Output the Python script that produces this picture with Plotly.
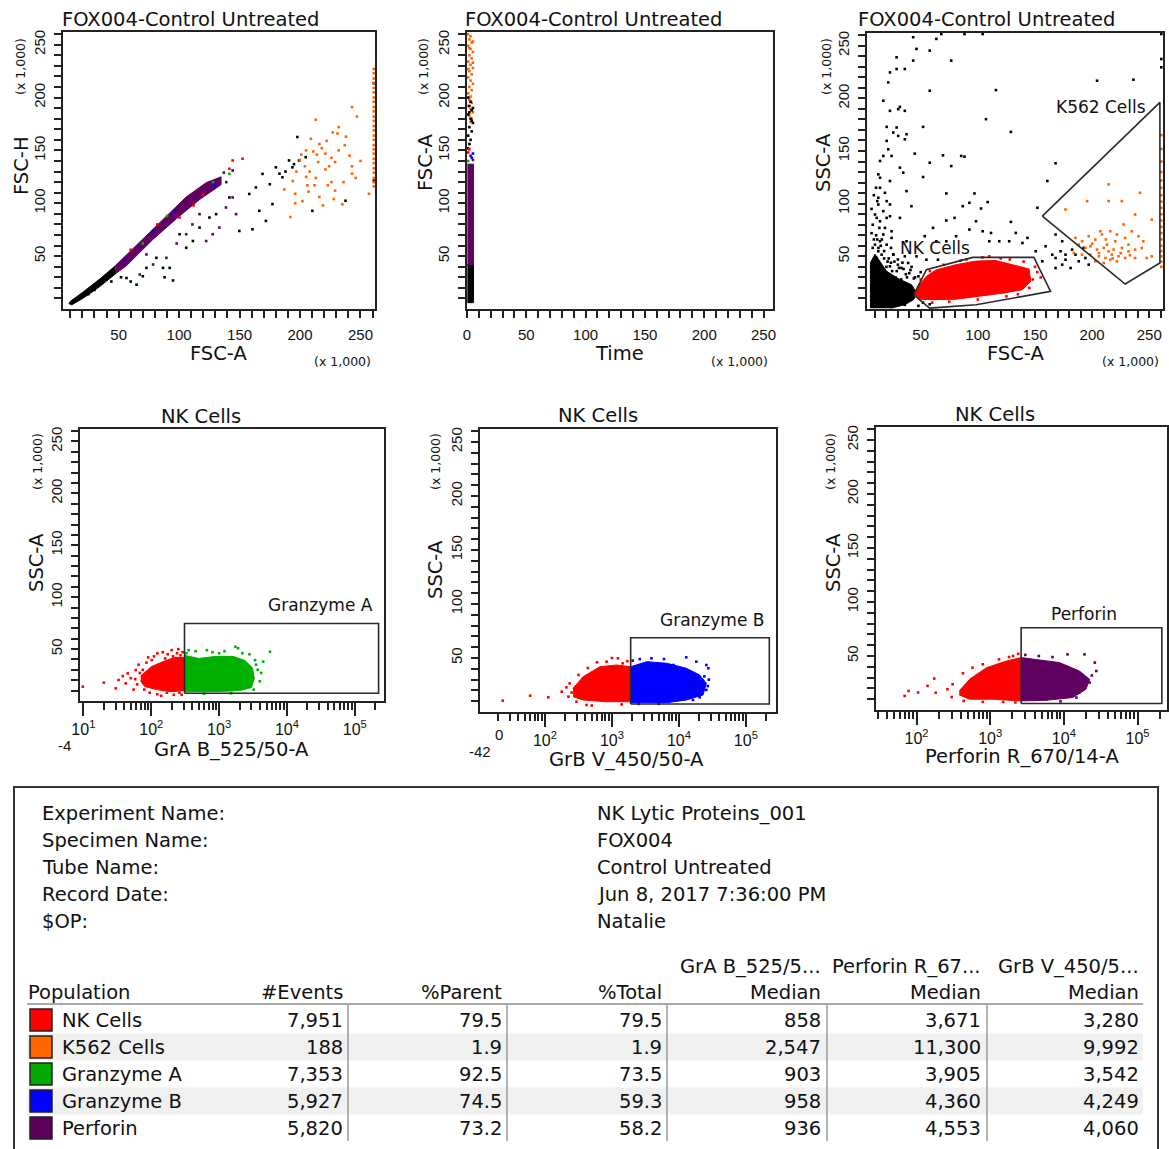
import numpy as np
import plotly.graph_objects as go

W, H = 1169, 1149
FONT = "DejaVu Sans"
TICKFAMILY = "Liberation Sans"

RED = "#FF0000"; ORANGE = "#FF6600"; GREEN = "#00B000"; BLUE = "#0000FF"
PURPLE = "#600060"; BLACK = "#000000"

# ---------------- data (values in axis units; linear axes are x 1,000) ----------------
# Panel 1: FSC-A vs FSC-H
p1_black_band_x = [46.9, 34.6, 20.8, 9.9, 9.0, 11.3, 20.8, 34.6, 48.3]
p1_black_band_y = [40.5, 28.5, 16.2, 7.1, 5.0, 4.0, 10.3, 21.4, 34.1]
p1_purple_band_x = [46.9, 67.5, 89.5, 105.9, 122.4, 134.7, 134.7, 116.9, 100.4, 78.5, 56.5, 48.3]
p1_purple_band_y = [40.5, 63.5, 87.5, 106, 119.5, 125, 117.5, 103.5, 88, 66, 41, 34.1]
p1_black_pts = [(56.5, 29.3), (64.8, 23), (73, 38.9), (81.2, 48.4), (86.7, 38.9), (92.2, 38.9), (100.4, 70.7),
                (105.9, 57.9), (111.4, 64.3), (116.9, 77), (125.1, 86.5), (130.6, 89.7), (141.6, 105.5),
                (149.8, 73.8), (160.7, 75.4), (166.3, 92.9), (171.8, 83.3), (177.2, 99.2), (158, 108.8),
                (163.5, 115), (169, 127.8), (180, 134), (185.4, 124.6), (190.9, 140.5), (193.7, 134),
                (197.8, 162.7), (199.2, 140.5), (204.7, 143.6), (210.2, 92.9), (237.6, 102.4),
                (261, 213.5), (261, 121.4), (88, 30), (95, 27), (60, 26), (70, 31), (175, 118),
                (188, 130), (195, 137), (183, 128), (30, 18), (40, 28), (25, 14), (52, 30), (44, 26)]
p1_purple_pts = [(122.4, 64.3), (133.3, 77), (144.3, 105.5), (147.1, 89.7), (138.8, 96), (127.8, 70.7),
                 (105.9, 70.7), (89.5, 48.4), (78.5, 42.1), (67.5, 32.6), (73, 51.6), (116.9, 89.7),
                 (111, 80), (98, 62), (137, 129), (139, 120)]
p1_red_pts = [(144.3, 140.5), (152.5, 142.1), (141.6, 132.6), (100.4, 86.5), (82, 80), (120, 108), (60, 56), (112, 98)]
p1_blue_pts = [(144.3, 131), (78.5, 73.8), (130, 117), (96, 92), (55, 47)]
p1_green_pts = [(141.6, 127.8), (128, 120), (90, 88), (70, 62)]
p1_orange_pts = [(243, 191), (247, 182), (213, 179), (227, 167), (231, 166), (209, 161), (216, 156), (222, 159),
                 (205, 150), (211, 149), (214, 146), (218, 152), (221, 147), (226, 143), (232, 150), (237, 155),
                 (241, 145), (243, 135), (224, 135), (200, 141), (204, 135), (208, 130), (197, 130), (194, 121),
                 (213, 124), (221, 132), (223, 117), (212, 117), (206, 117), (207, 111), (202, 102), (196, 100),
                 (192, 87), (235, 99), (229, 112), (257, 109), (243, 128), (246, 124), (216, 106), (219, 98),
                 (228, 104), (187, 113), (196, 109), (232, 172), (238, 163), (201, 146), (229, 139), (215, 139),
                 (236, 120), (250, 140), (226, 120), (205, 125)]
p1_orange_edge_y = [116, 120, 124, 129, 133, 138, 142, 147, 151, 155, 160, 164, 169, 173, 178, 182, 187,
                    191, 196, 200, 205, 209, 214, 218, 223, 227]

# Panel 2: Time vs FSC-A
p2_black_strip_x = [0.3, 5.5, 5.5, 0.3]
p2_black_strip_y = [6, 6, 42, 42]
p2_purple_strip_x = [0.3, 5.5, 5.5, 0.3]
p2_purple_strip_y = [42, 42, 137, 137]
p2_orange_pts = [(1, 260), (3, 258), (2, 255), (4, 252), (1, 249), (3, 246), (5, 243), (2, 240), (4, 237),
                 (1, 234), (3, 231), (5, 228), (2, 225), (4, 222), (1, 219), (3, 216), (5, 213), (2, 210),
                 (4, 207), (1, 204), (3, 201), (2, 198), (4, 195), (1, 192), (3, 189), (5, 186), (2, 183),
                 (4, 180), (3, 177), (5, 253), (5, 233), (1, 227), (2, 247)]
p2_black_pts = [(1, 200), (3, 196), (2, 192), (4, 188), (1, 184), (3, 180), (5, 176), (2, 172), (4, 168),
                (1, 164), (3, 160), (2, 156), (4, 178), (5, 190), (2, 186), (1, 152)]
p2_red_pts = [(1, 148), (2, 151)]
p2_blue_pts = [(4, 143), (5, 147)]
p2_green_pts = [(1, 140)]
p2_purple_pts = [(3, 145), (5, 141)]

# Panel 3: FSC-A vs SSC-A
p3_black_core_x = [6, 6, 10, 14, 20, 30, 42, 46, 44, 36, 24]
p3_black_core_y = [0.8, 44, 52, 46, 36, 29, 23, 16, 9, 4, 0.8]
p3_red_x = [44.8, 47.7, 55, 63.7, 81, 98.4, 115.8, 133.2, 144.8, 146.3, 139, 121.6, 98.4, 81, 60.7, 49.1]
p3_red_y = [13.5, 21.4, 31, 37.3, 42.1, 45.5, 46, 41.5, 38, 26.2, 18.3, 15, 11.9, 9.3, 8.8, 9.3]
p3_red_pts = [(150, 40), (152, 35), (148, 28), (140, 45), (128, 47), (110, 50), (90, 47), (70, 42), (58, 36),
              (50, 28), (60, 6), (75, 7), (100, 9), (125, 12), (145, 20), (155, 30), (135, 14), (85, 46),
              (120, 48), (104, 49)]
p3_black_pts = [(43.4, 258), (63.7, 256.4), (68, 261), (88.3, 261), (104.2, 261), (46.3, 246.9), (57.9, 245.3),
                (28.9, 238.9), (43.4, 235.8), (76.7, 235.8), (36.1, 227.8), (23.1, 224.6), (28.9, 227.8),
                (21.6, 215.1), (57.9, 207.2), (115.8, 207.8), (204.3, 216.7), (236.1, 217.7), (260.5, 229.4),
                (260.5, 237.3), (17.3, 197.7), (23.1, 188.1), (30.3, 189.7), (36.1, 188.1), (31.8, 191.9),
                (107.1, 180.2), (52.1, 172.9), (20.2, 172.9), (28.9, 172.3), (26, 167.5), (30.3, 164.3),
                (37.6, 165.9), (20.2, 159.6), (36.1, 161.1), (128.9, 168.1), (21.6, 151.6), (44.8, 147.5),
                (24.5, 145.3), (17.3, 145.3), (69.5, 145.9), (85.4, 145.3), (88.3, 144.6), (57.9, 138.9),
                (76.7, 135.7), (31.8, 134.2), (34.7, 129.4), (14.4, 124.6), (23.1, 121.5), (52.1, 125.3),
                (168, 138.3), (160.8, 121.5), (37.6, 111.9), (72.4, 109.7), (97, 109.7), (14.4, 115.1),
                (18.7, 110.3), (20.2, 102.4), (12.9, 99.2), (23.1, 99.2), (41.9, 97.6), (86.8, 97.6),
                (92.6, 100.8), (108.6, 101.5), (102.8, 95.4), (152.1, 96.1), (17.3, 92.9), (23.1, 88.1),
                (31.8, 86.5), (72.4, 84), (79.6, 86.5), (98.4, 83.3), (128.9, 82.7), (14.4, 83.3), (18.7, 77),
                (24.5, 73.8), (60.8, 77), (92.6, 75.4), (104.2, 73.8), (111.5, 72.2), (133.2, 72.2),
                (143.4, 67.5), (118.7, 64.3), (127.4, 64.3), (139, 62.7), (110, 64.3), (81, 69.1), (72.4, 64.3),
                (53.5, 69.1), (63.7, 64.3), (150.6, 54.8), (159.3, 59.5), (168, 70.7), (173.8, 64.3),
                (165.1, 51.6), (156.4, 45.3), (168, 48.4), (176.7, 51.6), (182.5, 56.4), (173.8, 42.1),
                (181.1, 38.9), (188.3, 45.3), (194.1, 48.4), (197, 42.1), (185.4, 51.6), (192.7, 58),
                (168, 38.9), (172.4, 54.8), (176.7, 46.8), (36.1, 50), (26, 51.6), (23.1, 40.5), (33.2, 38.9),
                (39, 43.7), (55, 46.8), (65.1, 46.8), (46.3, 50), (36.1, 4), (57.9, 4.5), (31.8, 13.5),
                (12.9, 54.8), (14.4, 64.3), (10, 61.1), (11.5, 48.4), (15.8, 51.6), (20.2, 61.1), (24.5, 67.5),
                (37.6, 64.3), (10, 89.7), (12, 102.4), (10.9, 115.1), (12.9, 127.8), (14.4, 140.5),
                (11.5, 86.5), (13.8, 77), (17.3, 70.7), (20.2, 86.5), (12.9, 105.6), (260.5, 261),
                (20, 40), (25, 36), (30, 42), (35, 38), (40, 34), (22, 48), (28, 30), (33, 28), (38, 30),
                (18, 55), (15, 60), (12, 66), (45, 30), (42, 40), (30, 47), (26, 52), (50, 35), (40, 20),
                (33, 18), (48, 3), (52, 6), (15, 30), (12, 40), (17, 20), (27, 45), (19, 35), (24, 58),
                (8, 58), (9, 66), (7, 72), (11, 70), (8, 80), (16, 66), (13, 58), (21, 45), (29, 36), (37, 33),
                (44, 29), (48, 31), (34, 44), (18, 48), (7, 95), (9, 108), (24, 44), (31, 39), (41, 37)]
p3_orange_pts = [(214.4, 118.3), (241.9, 110.3), (214.4, 102.4), (195.6, 102.4), (176.7, 94.5), (237.6, 89.7),
                 (252.1, 84.9), (227.5, 80.2), (215.9, 73.8), (234.7, 73.8), (185.4, 67.5), (197, 69.1),
                 (202.8, 65.9), (208.6, 70.7), (221.7, 70.7), (228.9, 67.5), (240.5, 69.1), (243.4, 57.9),
                 (188.3, 61.1), (194.1, 58), (198.5, 59.5), (204.3, 56.4), (210.1, 58), (214.4, 54.8),
                 (218.8, 56.4), (226, 58), (231.8, 54.8), (237.6, 56.4), (198.5, 51.6), (205.8, 50),
                 (211.6, 48.4), (217.3, 51.6), (223.1, 50), (228.9, 48.4), (202.8, 45.3), (210.1, 43.7),
                 (215.9, 46.8), (221.7, 45.3), (247.7, 48.4), (252.1, 50), (244.8, 64.3), (191.2, 64.3),
                 (184, 53.2), (191.2, 51.6), (237.6, 48.4), (226, 102.4), (207.2, 73.8), (213, 61.1),
                 (220.2, 64.3), (231.8, 61.1), (200, 62), (206, 53), (218, 48), (225, 53), (233, 51), (212, 66)]
p3_orange_edge_y = [40, 45, 50, 55, 60, 66, 72, 78, 84, 90, 96, 102, 108, 115, 122, 130, 140, 152, 165]
nk_gate_x = [43.9, 55, 95.5, 149, 163.6, 98.4, 57.8, 43.9]
nk_gate_y = [13.5, 37.3, 49, 49, 16.7, 4, 0.8, 13.5]
k562_gate_x = [156.4, 259.3, 259.3, 228.9, 156.4]
k562_gate_y = [88.1, 196.1, 43.7, 23.7, 88.1]

# Panel 4: GrA B_525/50-A (log) vs SSC-A
p4_red_core_x = [70, 100, 150, 220, 309, 309, 200, 120, 80, 70]
p4_red_core_y = [24, 33, 38, 42, 42, 10, 9, 11, 14, 19]
p4_red_pts = [(9.8, 13.8), (20, 17.7), (30, 12.2), (33, 20.2), (42, 17), (45, 26.6), (59, 29.8), (55, 11),
              (102, 39.4), (123, 45.9), (148, 47), (200, 49), (209, 43), (123, 6.5), (170, 8), (79, 11),
              (50, 22), (38, 24), (65, 35), (90, 42), (250, 50), (280, 6), (140, 5), (62, 16), (68, 27),
              (85, 37), (110, 43), (175, 45), (240, 46), (290, 47), (260, 8), (215, 6), (95, 8), (75, 30),
              (58, 21), (160, 41), (270, 44)]
p4_green_x = [309, 500, 900, 1600, 2400, 3100, 3300, 3000, 2000, 900, 309]
p4_green_y = [44, 41, 43, 43, 39, 32, 22, 13, 10, 9, 9]
p4_green_pts = [(355, 49), (661, 49), (1738, 52.3), (1905, 50.8), (3388, 39.4), (4467, 37.9), (4169, 27),
                (3981, 19), (5623, 47.5), (3236, 11), (2570, 14), (1200, 48), (800, 47), (450, 48), (2800, 45),
                (3700, 30), (600, 7), (1500, 7.5), (330, 46), (1000, 46), (2200, 46), (3500, 35)]
p4_gate_x = [309, 224000, 224000, 309, 309]
p4_gate_y = [7.4, 7.4, 74.7, 74.7, 7.4]

# Panel 5: GrB V_450/50-A (log) vs SSC-A
p5_red_x = [263, 372, 661, 1175, 1905, 1905, 832, 372, 263]
p5_red_y = [21.9, 32.7, 41.9, 43.5, 41.9, 9.5, 9.5, 11.1, 14.2]
p5_red_pts = [(23.4, 10.5), (60, 15.1), (112, 13.6), (178, 18.8), (209, 22.8), (234, 26.5), (316, 34.3),
              (437, 40.7), (832, 46.6), (1230, 49.7), (1445, 45), (417, 6.5), (295, 9.5), (224, 14.2),
              (600, 46), (1000, 50), (1700, 47), (250, 18), (500, 6), (1400, 7)]
p5_blue_x = [1905, 3311, 6607, 12882, 20417, 25704, 22909, 12882, 6607, 1905]
p5_blue_y = [41.9, 46.6, 45.1, 40.5, 34.3, 26.6, 15.7, 11.1, 8.6, 8.6]
p5_blue_pts = [(2042, 47.6), (3890, 49.7), (12882, 50.6), (18197, 46.6), (25704, 43.5), (27542, 40.5),
               (23988, 33), (25704, 20.4), (20417, 13.6), (16218, 11.1), (8318, 43.5), (2600, 49), (6000, 49),
               (28000, 30), (27000, 24), (2500, 7.5), (5000, 7.5)]
p5_gate_x = [1905, 224000, 224000, 1905, 1905]
p5_gate_y = [7.4, 7.4, 68.8, 68.8, 7.4]

# Panel 6: Perforin R_670/14-A (log) vs SSC-A
p6_red_x = [380, 525, 891, 1660, 2630, 2630, 1096, 525, 380]
p6_red_y = [17.6, 28.4, 39.2, 45.3, 48.5, 8.4, 10, 10, 13.9]
p6_red_pts = [(69, 13), (78, 17.6), (105, 16.2), (141, 22.3), (174, 29.1), (182, 16), (263, 19.2),
              (309, 23.8), (427, 34), (575, 39.2), (794, 42.3), (1318, 46.9), (2042, 50), (794, 7.5),
              (437, 8.4), (2400, 52), (1800, 49), (300, 12), (1500, 7.5), (2200, 7)]
p6_purple_x = [2630, 4169, 8710, 16218, 22387, 19953, 13183, 5754, 2630]
p6_purple_y = [48.5, 46.9, 43.9, 36.1, 28.4, 19.2, 11.5, 9, 8.4]
p6_purple_pts = [(4571, 50), (11220, 51.5), (19055, 51.5), (26303, 43.9), (27542, 36.1), (22387, 25.4),
                 (16218, 16.2), (14791, 11.5), (5754, 9.9), (3000, 51), (7000, 49), (24000, 32), (9000, 8)]
p6_gate_x = [2630, 214000, 214000, 2630, 2630]
p6_gate_y = [6.0, 6.0, 76.2, 76.2, 6.0]

# Table
meta_labels = ["Experiment Name:", "Specimen Name:", "Tube Name:", "Record Date:", "$OP:"]
meta_values = ["NK Lytic Proteins_001", "FOX004", "Control Untreated", "Jun 8, 2017 7:36:00 PM", "Natalie"]
populations = ["NK Cells", "K562 Cells", "Granzyme A", "Granzyme B", "Perforin"]
pop_colors = ["#FF0000", "#FF6600", "#00AA00", "#0000FF", "#5C005C"]
n_events = [7951, 188, 7353, 5927, 5820]
pct_parent = [79.5, 1.9, 92.5, 74.5, 73.2]
pct_total = [79.5, 1.9, 73.5, 59.3, 58.2]
grab_median = [858, 2547, 903, 958, 936]
perforin_median = [3671, 11300, 3905, 4360, 4553]
grbv_median = [3280, 9992, 3542, 4249, 4060]
col_headers_top = ["", "", "", "", "GrA B_525/5...", "Perforin R_67...", "GrB V_450/5..."]
col_headers = ["Population", "#Events", "%Parent", "%Total", "Median", "Median", "Median"]

# ---------------- helpers ----------------
def fx(px):
    return px / W

def fy(py):
    return 1 - py / H

def unzip(pts):
    return [p[0] for p in pts], [p[1] for p in pts]

fig = go.Figure()
DOT = 2.6

def poly(ax, xs, ys, color):
    fig.add_trace(go.Scatter(x=xs, y=ys, xaxis=ax[0], yaxis=ax[1], mode="lines", fill="toself",
                             fillcolor=color, line=dict(color=color, width=1), hoverinfo="skip"))

def dots(ax, pts, color, size=DOT):
    xs, ys = unzip(pts)
    fig.add_trace(go.Scatter(x=xs, y=ys, xaxis=ax[0], yaxis=ax[1], mode="markers",
                             marker=dict(color=color, size=size, symbol="square", line=dict(width=0)),
                             hoverinfo="skip"))

def gate(ax, xs, ys):
    fig.add_trace(go.Scatter(x=xs, y=ys, xaxis=ax[0], yaxis=ax[1], mode="lines",
                             line=dict(color="#2a2a2a", width=1.6), hoverinfo="skip"))

A1, A2, A3, A4, A5, A6 = ("x", "y"), ("x2", "y2"), ("x3", "y3"), ("x4", "y4"), ("x5", "y5"), ("x6", "y6")

# Panel 1
dots(A1, p1_black_pts, BLACK)
dots(A1, p1_purple_pts, PURPLE)
poly(A1, p1_black_band_x, p1_black_band_y, BLACK)
poly(A1, p1_purple_band_x, p1_purple_band_y, PURPLE)
dots(A1, p1_red_pts, RED)
dots(A1, p1_blue_pts, BLUE)
dots(A1, p1_green_pts, GREEN)
dots(A1, p1_orange_pts, ORANGE)
dots(A1, [(261, y) for y in p1_orange_edge_y], ORANGE)

# Panel 2
poly(A2, p2_black_strip_x, p2_black_strip_y, BLACK)
poly(A2, p2_purple_strip_x, p2_purple_strip_y, PURPLE)
dots(A2, p2_orange_pts, ORANGE)
dots(A2, p2_black_pts, BLACK)
dots(A2, p2_red_pts, RED)
dots(A2, p2_blue_pts, BLUE)
dots(A2, p2_green_pts, GREEN)
dots(A2, p2_purple_pts, PURPLE)

# Panel 3
dots(A3, p3_black_pts, BLACK)
poly(A3, p3_black_core_x, p3_black_core_y, BLACK)
poly(A3, p3_red_x, p3_red_y, RED)
dots(A3, p3_red_pts, RED)
dots(A3, p3_orange_pts, ORANGE)
dots(A3, [(260.5, y) for y in p3_orange_edge_y], ORANGE)
gate(A3, nk_gate_x, nk_gate_y)
gate(A3, k562_gate_x, k562_gate_y)

# Panel 4
dots(A4, p4_red_pts, RED)
poly(A4, p4_red_core_x, p4_red_core_y, RED)
poly(A4, p4_green_x, p4_green_y, GREEN)
dots(A4, p4_green_pts, GREEN)
gate(A4, p4_gate_x, p4_gate_y)

# Panel 5
dots(A5, p5_red_pts, RED)
poly(A5, p5_red_x, p5_red_y, RED)
poly(A5, p5_blue_x, p5_blue_y, BLUE)
dots(A5, p5_blue_pts, BLUE)
gate(A5, p5_gate_x, p5_gate_y)

# Panel 6
dots(A6, p6_red_pts, RED)
poly(A6, p6_red_x, p6_red_y, RED)
poly(A6, p6_purple_x, p6_purple_y, PURPLE)
dots(A6, p6_purple_pts, PURPLE)
gate(A6, p6_gate_x, p6_gate_y)

# ---------------- axes ----------------
boxes = {1: (63, 375, 32, 309), 2: (467, 773, 32, 309), 3: (867, 1163, 33, 309),
         4: (80, 384, 429, 701), 5: (480, 776, 429, 712), 6: (876, 1167, 427, 710)}

TICKFONT = dict(family=TICKFAMILY, size=15, color="#111")
base = dict(showline=True, linecolor="#222", linewidth=2, mirror=True, ticks="outside", ticklen=7,
            tickwidth=2, tickcolor="#222", showgrid=False, zeroline=False, fixedrange=True,
            tickfont=TICKFONT, automargin=False, tickmode="array")

def lin_major(start):
    return [v for v in range(start, 261, 50)]

def lin_minor():
    return [v for v in range(10, 261, 10) if v % 50 != 0]

def minor_log(lo, hi):
    out = []
    for e in range(lo, hi + 1):
        for m in range(2, 10):
            out.append(m * 10 ** e)
    return out

lin_x_ranges = {1: [4, 262], 2: [0, 258], 3: [3, 262]}
log_x_ranges = {4: [0.95, 5.43], 5: [1.03, 5.45], 6: [1.45, 5.40]}
log_major = {4: [10, 100, 1000, 10000, 100000], 5: [100, 1000, 10000, 100000], 6: [100, 1000, 10000, 100000]}

minor_lin = dict(tickvals=lin_minor(), ticks="outside", ticklen=7, tickwidth=2, tickcolor="#222")

layout_axes = {}
for i in range(1, 7):
    x0, x1, y0, y1 = boxes[i]
    xn = "xaxis" if i == 1 else f"xaxis{i}"
    yn = "yaxis" if i == 1 else f"yaxis{i}"
    yref = "y" if i == 1 else f"y{i}"
    xref = "x" if i == 1 else f"x{i}"
    if i <= 3:
        tv = lin_major(0 if i == 2 else 50)
        xa = dict(base, domain=[fx(x0), fx(x1)], range=lin_x_ranges[i], tickvals=tv,
                  ticktext=[str(v) for v in tv], anchor=yref, ticklabelstandoff=4, minor=minor_lin)
    else:
        mv = log_major[i]
        xa = dict(base, type="log", domain=[fx(x0), fx(x1)], range=log_x_ranges[i], tickvals=mv,
                  ticktext=[f"10<sup>{int(round(np.log10(v)))}</sup>" for v in mv], ticklen=13,
                  anchor=yref, ticklabelstandoff=0, tickfont=dict(TICKFONT, size=16),
                  minor=dict(tickvals=minor_log(1, 5), ticks="outside", ticklen=7, tickwidth=2,
                             tickcolor="#222"))
    tv = lin_major(50)
    ya = dict(base, domain=[fy(y1), fy(y0)], range=[0, 262], tickvals=tv, ticktext=[str(v) for v in tv],
              tickangle=-90, anchor=xref, ticklabelstandoff=3, minor=minor_lin)
    layout_axes[xn] = xa
    layout_axes[yn] = ya

# ---------------- annotations ----------------
ann = []

def text(t, px, py, size=19.5, xa="center", ya="middle", angle=0, color="#111", family=FONT):
    ann.append(dict(text=t, x=fx(px), y=fy(py), xref="paper", yref="paper", showarrow=False,
                    xanchor=xa, yanchor=ya, textangle=angle,
                    font=dict(family=family, size=size, color=color)))

for cx in (190, 593, 986):
    text("FOX004-Control Untreated", cx, 19)
for cx, cy in ((201, 417), (598, 416), (995, 414)):
    text("NK Cells", cx, cy)

for t, px, py in (("FSC-A", 218, 353), ("Time", 619, 353), ("FSC-A", 1015, 353),
                  ("GrA B_525/50-A", 231, 749), ("GrB V_450/50-A", 626, 759),
                  ("Perforin R_670/14-A", 1022, 756)):
    text(t, px, py)
for t, px, py in (("FSC-H", 21, 166), ("FSC-A", 425, 163), ("SSC-A", 823, 163),
                  ("SSC-A", 36, 563), ("SSC-A", 435, 570), ("SSC-A", 833, 563)):
    text(t, px, py, angle=-90)
for px, py in ((20, 67), (423, 67), (826, 67), (37, 462), (435, 462), (830, 462)):
    text("(x 1,000)", px, py, size=12.5, angle=-90)
for px, py in ((342, 362), (740, 362), (1130, 362)):
    text("(x 1,000)", px, py, size=12.5)

# biexponential low-end labels
text("-4", 64, 745, size=15, family=TICKFAMILY)
text("-42", 480, 751, size=15, family=TICKFAMILY)
text("0", 499, 734, size=15, family=TICKFAMILY)

# gate labels (data coordinates)
def gate_label(t, axn, x, y, logx=False):
    ann.append(dict(text=t, x=np.log10(x) if logx else x, y=y, xref=axn[0], yref=axn[1], showarrow=False,
                    xanchor="center", yanchor="middle", font=dict(family=FONT, size=17, color="#111")))

gate_label("NK Cells", A3, 62.2, 57.6)
gate_label("K562 Cells", A3, 207.4, 191.9)
gate_label("Granzyme A", A4, 31000, 92, logx=True)
gate_label("Granzyme B", A5, 31000, 85, logx=True)
gate_label("Perforin", A6, 19000, 89, logx=True)

# ---------------- table ----------------
shapes = []
shapes.append(dict(type="rect", xref="paper", yref="paper", x0=fx(14), x1=fx(1158), y0=fy(1170), y1=fy(787),
                   line=dict(color="#333", width=2), fillcolor="rgba(0,0,0,0)"))

TF = 19.5
for i, (lab, val) in enumerate(zip(meta_labels, meta_values)):
    cy = 813 + 27 * i
    text(lab, 40, cy, size=TF, xa="left")
    text(val, 595, cy, size=TF, xa="left")

col_right = [None, 345, 504, 664, 823, 983, 1141]
for j, t in enumerate(col_headers_top):
    if t:
        text(t, col_right[j], 967, size=TF, xa="right")
for j, t in enumerate(col_headers):
    if j == 0:
        text(t, 26, 992, size=TF, xa="left")
    else:
        text(t, col_right[j], 992, size=TF, xa="right")

row_y0 = 1020
row_h = 27
for i in range(len(populations)):
    cy = row_y0 + row_h * i
    if i % 2 == 1:
        shapes.append(dict(type="rect", xref="paper", yref="paper", x0=fx(27), x1=fx(1143),
                           y0=fy(cy + row_h / 2), y1=fy(cy - row_h / 2), line=dict(width=0),
                           fillcolor="#F0F0F0", layer="below"))

shapes.append(dict(type="line", xref="paper", yref="paper", x0=fx(27), x1=fx(1143), y0=fy(1004), y1=fy(1004),
                   line=dict(color="#A8A8A8", width=2)))
for sx in (348, 507, 667, 827, 987):
    shapes.append(dict(type="line", xref="paper", yref="paper", x0=fx(sx), x1=fx(sx), y0=fy(1005), y1=fy(1141),
                       line=dict(color="#9A9A9A", width=1.5)))

for i, name in enumerate(populations):
    cy = row_y0 + row_h * i
    shapes.append(dict(type="rect", xref="paper", yref="paper", x0=fx(30), x1=fx(52), y0=fy(cy + 11),
                       y1=fy(cy - 11), line=dict(color="#222", width=1.5), fillcolor=pop_colors[i]))
    text(name, 60, cy, size=TF, xa="left")
    vals = [f"{n_events[i]:,}", f"{pct_parent[i]:.1f}", f"{pct_total[i]:.1f}", f"{grab_median[i]:,}",
            f"{perforin_median[i]:,}", f"{grbv_median[i]:,}"]
    for j, v in enumerate(vals):
        text(v, col_right[j + 1], cy, size=TF, xa="right")

fig.update_layout(template="none", width=W, height=H, margin=dict(l=0, r=0, t=0, b=0, pad=0),
                  paper_bgcolor="white", plot_bgcolor="white", showlegend=False,
                  annotations=ann, shapes=shapes, **layout_axes)

fig.write_html("out.html", config={"displayModeBar": False},
               post_script="document.body.style.margin='0';")
